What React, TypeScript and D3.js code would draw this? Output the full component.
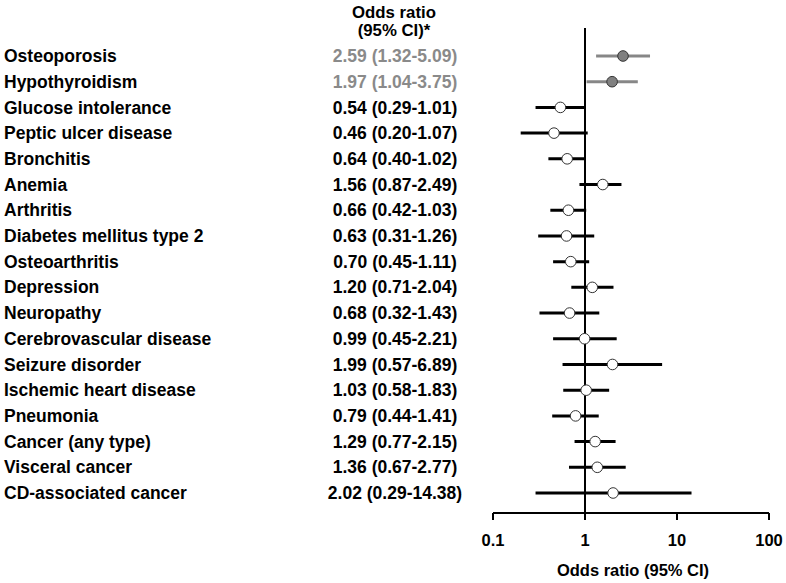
import React from "react";
import * as d3 from "d3";

const conditions = [
  "Osteoporosis",
  "Hypothyroidism",
  "Glucose intolerance",
  "Peptic ulcer disease",
  "Bronchitis",
  "Anemia",
  "Arthritis",
  "Diabetes mellitus type 2",
  "Osteoarthritis",
  "Depression",
  "Neuropathy",
  "Cerebrovascular disease",
  "Seizure disorder",
  "Ischemic heart disease",
  "Pneumonia",
  "Cancer (any type)",
  "Visceral cancer",
  "CD-associated cancer",
];
const oddsRatios = [2.59, 1.97, 0.54, 0.46, 0.64, 1.56, 0.66, 0.63, 0.7, 1.2, 0.68, 0.99, 1.99, 1.03, 0.79, 1.29, 1.36, 2.02];
const lowerCI = [1.32, 1.04, 0.29, 0.2, 0.4, 0.87, 0.42, 0.31, 0.45, 0.71, 0.32, 0.45, 0.57, 0.58, 0.44, 0.77, 0.67, 0.29];
const upperCI = [5.09, 3.75, 1.01, 1.07, 1.02, 2.49, 1.03, 1.26, 1.11, 2.04, 1.43, 2.21, 6.89, 1.83, 1.41, 2.15, 2.77, 14.38];
const significant = [true, true, false, false, false, false, false, false, false, false, false, false, false, false, false, false, false, false];
const tickValues = [0.1, 1, 10, 100];

const fmt = (v: number) => v.toFixed(2);

export default function App() {
  const W = 786;
  const H = 583;
  const x = d3.scaleLog().domain([0.1, 100]).range([493, 769]);
  const y = d3
    .scalePoint<number>()
    .domain(conditions.map((_, i) => i))
    .range([56, 493]);
  const axisY = 513;
  const font = "'Liberation Sans', Arial, sans-serif";
  const grey = "#878787";

  return (
    <svg
      width={W}
      height={H}
      style={{ position: "absolute", left: 0, top: 0, background: "#fff" }}
      fontFamily={font}
      fontWeight="bold"
    >
      <text x={394} y={18} textAnchor="middle" fontSize={16.8} fill="#000">
        Odds ratio
      </text>
      <text x={394} y={36} textAnchor="middle" fontSize={16.8} fill="#000">
        (95% CI)*
      </text>
      {conditions.map((c, i) => {
        const yy = y(i)!;
        const col = significant[i] ? grey : "#000";
        return (
          <g key={c}>
            <text x={4} y={yy} dy="0.35em" fontSize={17.5} fill="#000">
              {c}
            </text>
            <text x={395} y={yy} dy="0.35em" textAnchor="middle" fontSize={17.5} fill={significant[i] ? "#8a8a8a" : "#000"}>
              {`${fmt(oddsRatios[i])} (${fmt(lowerCI[i])}-${fmt(upperCI[i])})`}
            </text>
            <line x1={x(lowerCI[i])} x2={x(upperCI[i])} y1={yy} y2={yy} stroke={col} strokeWidth={3} />
          </g>
        );
      })}
      <line x1={x(1)} x2={x(1)} y1={28} y2={axisY} stroke="#000" strokeWidth={2} />
      {conditions.map((c, i) => (
        <circle
          key={c + "-pt"}
          cx={x(oddsRatios[i])}
          cy={y(i)!}
          r={5.3}
          fill={significant[i] ? "#808080" : "#fff"}
          stroke="#333"
          strokeWidth={1}
        />
      ))}
      <line x1={x(0.1)} x2={x(100)} y1={axisY} y2={axisY} stroke="#000" strokeWidth={2} />
      {tickValues.map((t) => (
        <g key={t}>
          <line x1={x(t)} x2={x(t)} y1={axisY} y2={axisY + 7} stroke="#000" strokeWidth={2} />
          <text x={x(t)} y={540} dy="0.35em" textAnchor="middle" fontSize={16.5} fill="#000">
            {String(t)}
          </text>
        </g>
      ))}
      <text x={x(1) + 48} y={570} dy="0.35em" textAnchor="middle" fontSize={16.5} fill="#000">
        Odds ratio (95% CI)
      </text>
    </svg>
  );
}
